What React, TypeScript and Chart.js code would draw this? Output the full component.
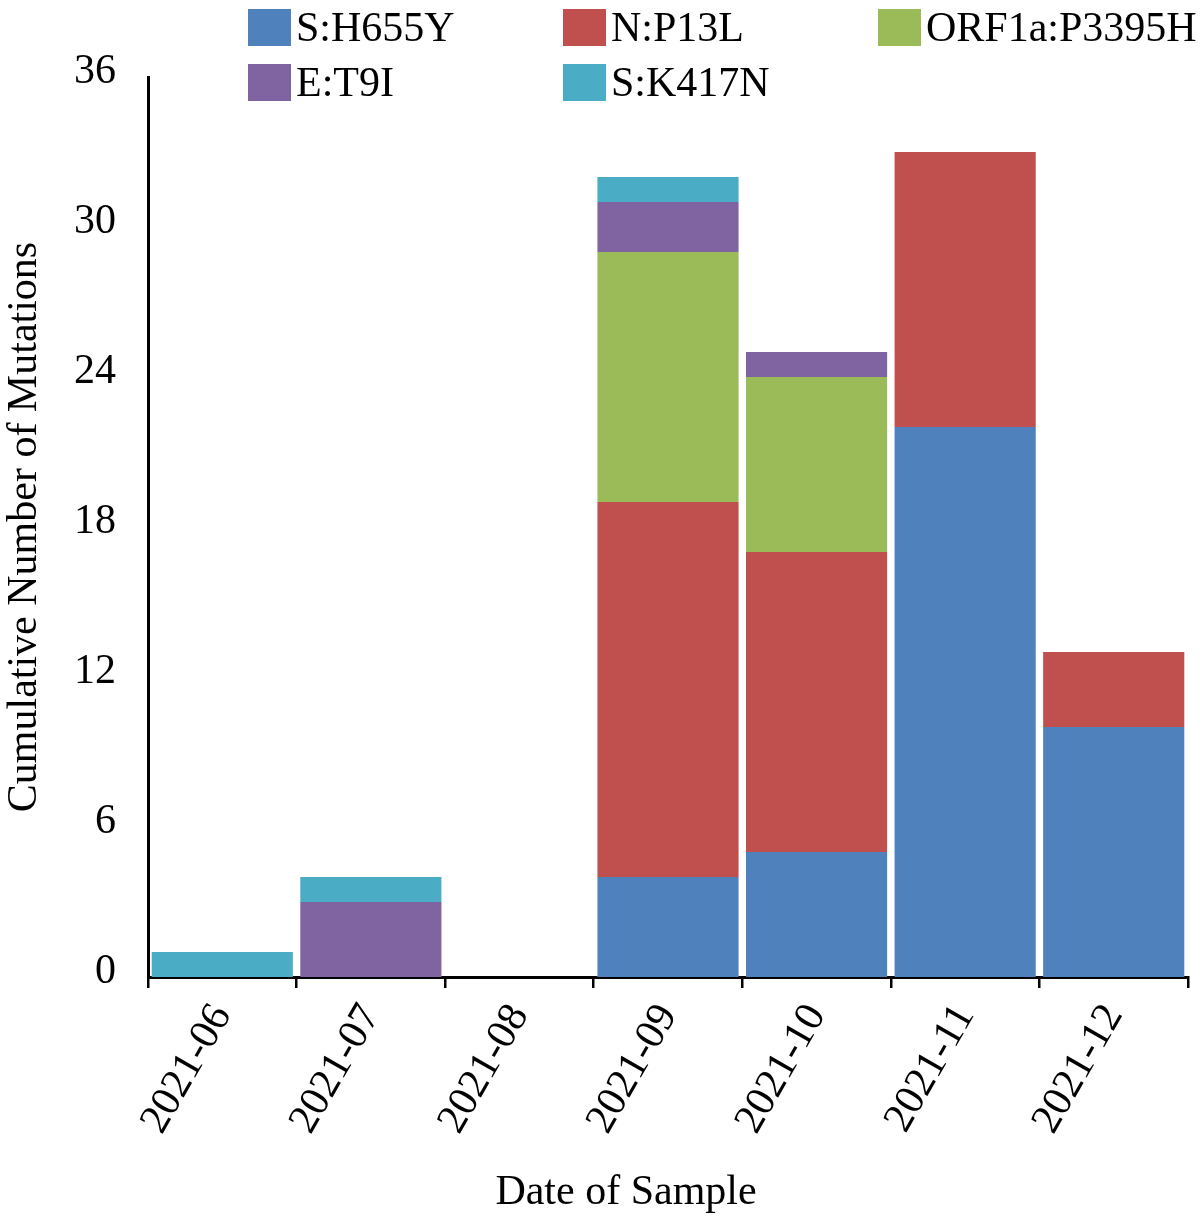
import React, { useRef, useEffect } from 'react';
import { Chart, registerables } from 'chart.js';

Chart.register(...registerables);

// categories (month of sample)
const months = ['2021-06', '2021-07', '2021-08', '2021-09', '2021-10', '2021-11', '2021-12'];

// series, stacked bottom -> top
const sH655Y = [0, 0, 0, 4, 5, 22, 10];
const nP13L = [0, 0, 0, 15, 12, 11, 3];
const orf1aP3395H = [0, 0, 0, 10, 7, 0, 0];
const eT9I = [0, 3, 0, 2, 1, 0, 0];
const sK417N = [1, 1, 0, 1, 0, 0, 0];

const seriesNames = ['S:H655Y', 'N:P13L', 'ORF1a:P3395H', 'E:T9I', 'S:K417N'];
const seriesValues = [sH655Y, nP13L, orf1aP3395H, eT9I, sK417N];
const seriesColors = ['#4F81BD', '#C0504D', '#9BBB59', '#8064A2', '#4BACC6'];

const yTicks = [0, 6, 12, 18, 24, 30, 36];

const FONT = "'Liberation Serif', 'Times New Roman', serif";

const MutationChart: React.FC = () => {
  const canvasRef = useRef<HTMLCanvasElement>(null);
  const chartRef = useRef<Chart | null>(null);

  useEffect(() => {
    const ctx = canvasRef.current?.getContext('2d');
    if (!ctx) return;
    if (chartRef.current) chartRef.current.destroy();

    chartRef.current = new Chart(ctx, {
      type: 'bar',
      data: {
        labels: months,
        datasets: seriesNames.map((name, i) => ({
          label: name,
          data: seriesValues[i],
          backgroundColor: seriesColors[i],
          borderWidth: 0,
          barPercentage: 0.95,
          categoryPercentage: 1,
        })),
      },
      options: {
        animation: false,
        responsive: false,
        layout: { padding: { top: 77, right: 16, bottom: 0, left: 0 } },
        plugins: {
          legend: { display: false },
          tooltip: { enabled: false },
        },
        scales: {
          x: {
            stacked: true,
            grid: {
              display: true,
              drawOnChartArea: false,
              drawTicks: true,
              tickLength: 11,
              color: '#000',
              lineWidth: 2.5,
            },
            border: { display: true, color: '#000', width: 3 },
            ticks: {
              color: '#000',
              font: { family: FONT, size: 42 },
              minRotation: 60,
              maxRotation: 60,
              padding: 8,
              autoSkip: false,
            },
            afterFit: (scale: any) => {
              scale.height = 243;
            },
          },
          y: {
            stacked: true,
            min: 0,
            max: 36,
            grid: { display: false, drawTicks: false },
            border: { display: true, color: '#000', width: 3 },
            ticks: {
              color: '#000',
              font: { family: FONT, size: 42 },
              padding: 32,
              labelOffset: -5,
            },
            afterBuildTicks: (scale: any) => {
              scale.ticks = yTicks.map((v) => ({ value: v }));
            },
            title: {
              display: true,
              text: 'Cumulative Number of Mutations',
              color: '#000',
              font: { family: FONT, size: 42 },
              padding: { top: 0, bottom: 0 },
            },
            afterFit: (scale: any) => {
              scale.width = 148;
            },
          },
        },
      },
    });

    return () => {
      if (chartRef.current) {
        chartRef.current.destroy();
        chartRef.current = null;
      }
    };
  }, []);

  return (
    <div style={{ position: 'absolute', left: 0, top: 0, width: 1204, height: 1220, background: '#fff' }}>
      <canvas ref={canvasRef} width={1204} height={1220} style={{ position: 'absolute', left: 0, top: 0 }} />
      {/* legend: 3-column grid over the top of the plot */}
      <div
        style={{
          position: 'absolute',
          left: 248,
          top: 8,
          display: 'grid',
          gridTemplateColumns: '315px 315px 320px',
          rowGap: 17,
          fontFamily: FONT,
          fontSize: 42,
          lineHeight: '38px',
          color: '#000',
        }}
      >
        {seriesNames.map((name, i) => (
          <div key={name} style={{ display: 'flex', alignItems: 'center', whiteSpace: 'nowrap' }}>
            <span
              style={{
                display: 'inline-block',
                width: 43,
                height: 37,
                background: seriesColors[i],
                marginRight: 5,
              }}
            />
            <span>{name}</span>
          </div>
        ))}
      </div>
      <div
        style={{
          position: 'absolute',
          left: 0,
          width: 1252,
          top: 1165,
          textAlign: 'center',
          fontFamily: FONT,
          fontSize: 42,
          lineHeight: '50px',
          color: '#000',
        }}
      >
        Date of Sample
      </div>
    </div>
  );
};

export default function App() {
  return <MutationChart />;
}
